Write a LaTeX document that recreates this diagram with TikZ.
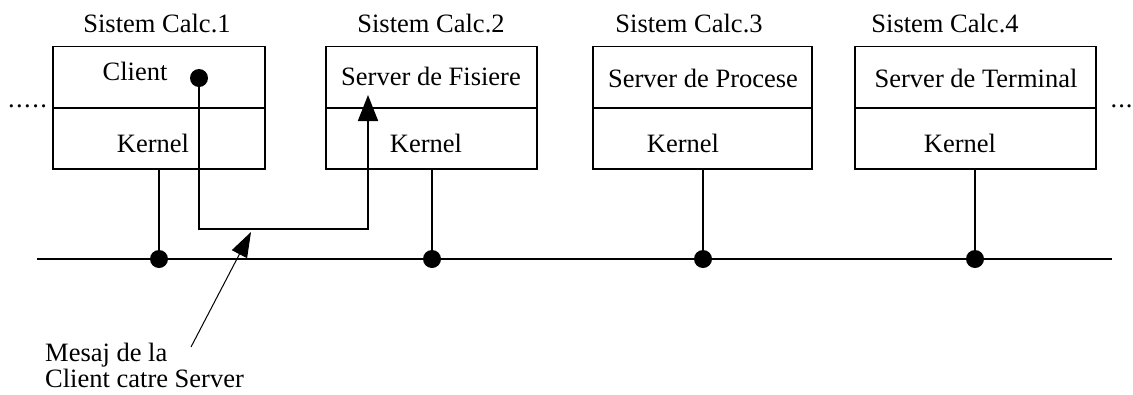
\documentclass[tikz,border=0pt]{standalone}
\usepackage{fontspec}
\setmainfont{Liberation Serif}
\usetikzlibrary{arrows.meta}
\begin{document}
\begin{tikzpicture}[x=1pt,y=-1pt,
  font=\fontsize{26.5}{30}\selectfont,
  half/.style={draw, line width=1.8pt, inner sep=0pt, minimum height=61pt},
  lbl/.style={anchor=base, inner sep=0pt},
  dotnode/.style={circle, fill=black, inner sep=0pt, minimum size=18pt},
  wire/.style={line width=1.8pt},
  thin/.style={line width=1pt}
]
\useasboundingbox (0,0) rectangle (1133,394);

% boxes
\node[half, minimum width=212pt] (t1) at (159,77) {};
\node[half, minimum width=212pt] (k1) at (159,138.5) {};
\node[half, minimum width=211pt] (t2) at (431.5,77) {};
\node[half, minimum width=211pt] (k2) at (431.5,138.5) {};
\node[half, minimum width=219pt] (t3) at (702.5,77) {};
\node[half, minimum width=219pt] (k3) at (702.5,138.5) {};
\node[half, minimum width=241pt] (t4) at (975.5,77) {};
\node[half, minimum width=241pt] (k4) at (975.5,138.5) {};

% titles
\node[lbl] (s1) at (157,32) {Sistem Calc.1};
\node[lbl] (s2) at (431,32) {Sistem Calc.2};
\node[lbl] (s3) at (689,32) {Sistem Calc.3};
\node[lbl] (s4) at (945,32) {Sistem Calc.4};

% inner texts
\node[lbl] (cl) at (135,80) {Client};
\node[lbl] (sf) at (431,85) {Server de Fisiere};
\node[lbl] (sp) at (703,87) {Server de Procese};
\node[lbl] (st) at (976,87) {Server de Terminal};
\node[lbl] (kn1) at (153,152) {Kernel};
\node[lbl] (kn2) at (426,152) {Kernel};
\node[lbl] (kn3) at (683,152) {Kernel};
\node[lbl] (kn4) at (960,152) {Kernel};

% ellipses
\node[anchor=base west, inner sep=0pt] (dl) at (8,107) {.\kern1.4pt.\kern1.4pt.\kern1.4pt.\kern1.4pt.};
\node[anchor=base west, inner sep=0pt] (dr) at (1110.5,107) {.\kern1pt.\kern1pt.};

% bus
\coordinate (busL) at (37,259);
\coordinate (busR) at (1112,259);
\draw[wire] (busL) -- (busR);
\node[dotnode] (d1) at (159,259) {};
\node[dotnode] (d2) at (432,259) {};
\node[dotnode] (d3) at (703,259) {};
\node[dotnode] (d4) at (975,259) {};
\draw[wire] (k1.south -| d1) -- (d1.center);
\draw[wire] (k2.south -| d2) -- (d2.center);
\draw[wire] (k3.south -| d3) -- (d3.center);
\draw[wire] (k4.south -| d4) -- (d4.center);

% message path
\node[dotnode] (cdot) at (199,78) {};
\coordinate (mc) at (368,229);
\coordinate (srvin) at (368,95);
\draw[wire, -{Triangle[length=26pt,width=20pt]}] (cdot.center) |- (mc) -- (srvin);

% pointer label
\coordinate (phead) at (251,232);
\coordinate (ptail) at (191,347);
\draw[thin, -{Triangle[length=25pt,width=17pt]}] (ptail) -- (phead);
\node[anchor=base west, inner sep=0pt] (msgA) at (45,361) {Mesaj de la};
\node[anchor=base west, inner sep=0pt] (msgB) at (45,387) {Client catre Server};
\end{tikzpicture}
\end{document}
